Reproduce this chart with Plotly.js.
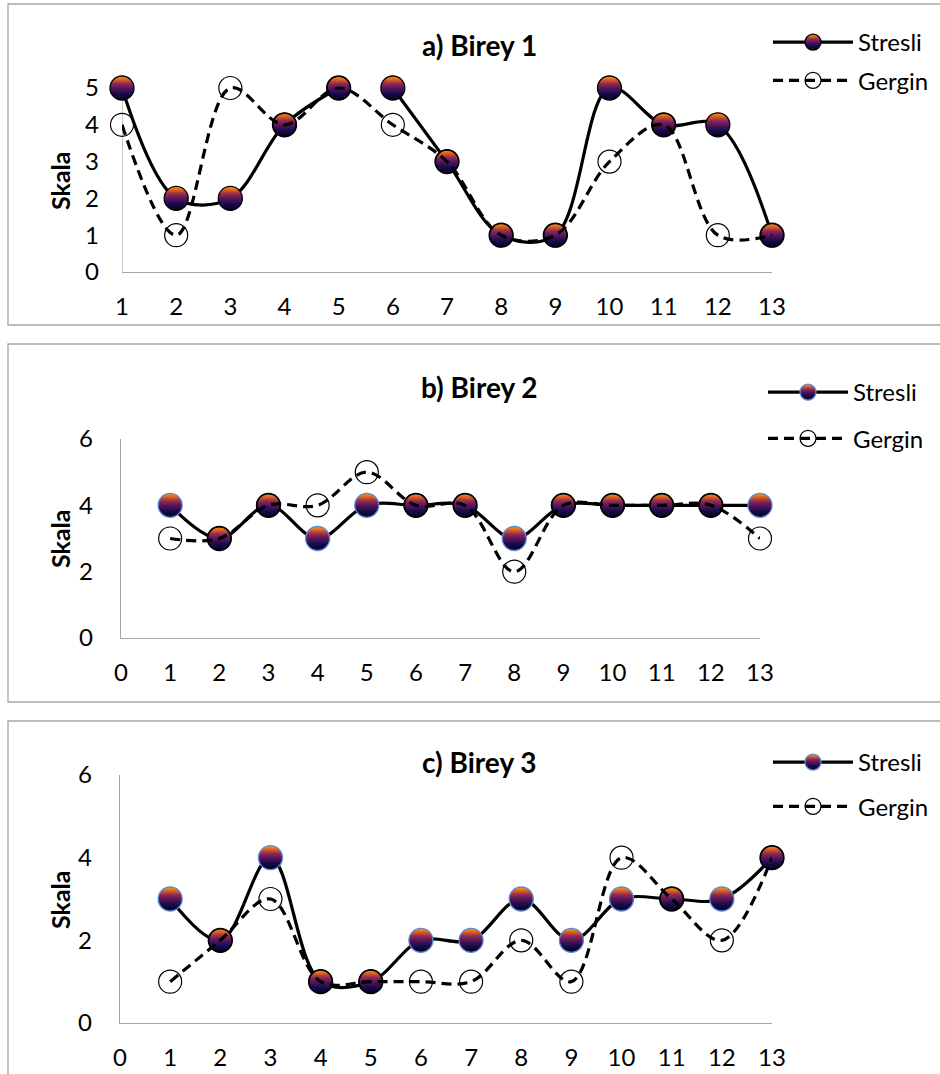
<!DOCTYPE html>
<html><head><meta charset="utf-8">
<script src="https://cdn.plot.ly/plotly-3.0.1.min.js"></script>
<style>html,body{margin:0;padding:0;background:#fff}</style>
</head><body><div id="chart" style="width:940px;height:1074px"></div>
<script>
// ---- data ----
const xValues = [1,2,3,4,5,6,7,8,9,10,11,12,13];
const stresli1 = [5,2,2,4,5,5,3,1,1,5,4,4,1];
const gergin1  = [4,1,5,4,5,4,3,1,1,3,4,1,1];
const stresli2 = [4,3,4,3,4,4,4,3,4,4,4,4,4];
const gergin2  = [3,3,4,4,5,4,4,2,4,4,4,4,3];
const stresli3 = [3,2,4,1,1,2,2,3,2,3,3,3,4];
const gergin3  = [1,2,3,1,1,1,1,2,1,4,3,2,4];
const panelTitles = ['a) Birey 1','b) Birey 2','c) Birey 3'];
const seriesNames = ['Stresli','Gergin'];
const yTitle = 'Skala';
const xTicksA = [1,2,3,4,5,6,7,8,9,10,11,12,13];
const xTicksBC = [0,1,2,3,4,5,6,7,8,9,10,11,12,13];
const yTicksA = [0,1,2,3,4,5];
const yTicksBC = [0,2,4,6];

// ---- style ----
const W = 940, H = 1074;
const px = v => v / W;
const py = v => 1 - v / H;
const FONT = 'Lato, "Noto Sans", sans-serif';
const AX = '#a6a6a6';
const BLUE = '#5b8ad6';
const DARK = '#000000';
const rimB = [BLUE,DARK,DARK,BLUE,BLUE,DARK,DARK,BLUE,DARK,DARK,DARK,DARK,BLUE];
const rimC = [BLUE,DARK,BLUE,DARK,DARK,BLUE,BLUE,BLUE,BLUE,BLUE,DARK,BLUE,DARK];

function stresliMarker(rim) {
  return {size: 24, color: '#ffa000', gradient: {type: 'vertical', color: '#050320'},
          line: {color: rim, width: 1.3}};
}
const gerginMarker = {size: 23, color: 'rgba(0,0,0,0)', line: {color: '#000', width: 1.2}};
const solidLine = {color: '#000', width: 3.2, shape: 'spline', smoothing: 1};
const dashLine = {color: '#000', width: 3.2, dash: '10px,6px', shape: 'spline', smoothing: 1};

const data = [];
// panel a (Stresli line broken between points 5 and 6)
data.push({x: xValues.slice(0,5), y: stresli1.slice(0,5), xaxis:'x', yaxis:'y', mode:'lines+markers',
  name: seriesNames[0], legend:'legend', legendgroup:'a1', line: solidLine, marker: stresliMarker(DARK), cliponaxis:false});
data.push({x: xValues.slice(5), y: stresli1.slice(5), xaxis:'x', yaxis:'y', mode:'lines+markers',
  name: seriesNames[0], showlegend:false, legendgroup:'a1', line: solidLine, marker: stresliMarker(DARK), cliponaxis:false});
data.push({x: xValues, y: gergin1, xaxis:'x', yaxis:'y', mode:'lines+markers',
  name: seriesNames[1], legend:'legend', legendgroup:'a2', line: dashLine, marker: gerginMarker, cliponaxis:false});
// panel b
data.push({x: xValues, y: stresli2, xaxis:'x2', yaxis:'y2', mode:'lines+markers',
  name: seriesNames[0], legend:'legend2', legendgroup:'b1', line: solidLine, marker: stresliMarker(rimB), cliponaxis:false});
data.push({x: xValues, y: gergin2, xaxis:'x2', yaxis:'y2', mode:'lines+markers',
  name: seriesNames[1], legend:'legend2', legendgroup:'b2', line: dashLine, marker: gerginMarker, cliponaxis:false});
// panel c
data.push({x: xValues, y: stresli3, xaxis:'x3', yaxis:'y3', mode:'lines+markers',
  name: seriesNames[0], legend:'legend3', legendgroup:'c1', line: solidLine, marker: stresliMarker(rimC), cliponaxis:false});
data.push({x: xValues, y: gergin3, xaxis:'x3', yaxis:'y3', mode:'lines+markers',
  name: seriesNames[1], legend:'legend3', legendgroup:'c2', line: dashLine, marker: gerginMarker, cliponaxis:false});

const tickFont = {family: FONT, size: 24, color: '#000'};
function xAxis(dom, range, ticks, anchor) {
  return {domain: [px(dom[0]), px(dom[1])], range: range, anchor: anchor, tickmode:'array', tickvals: ticks,
    showline: true, linecolor: AX, linewidth: 1.2, showgrid: false, zeroline: false, ticks: '',
    tickfont: tickFont, ticklabelstandoff: 13, fixedrange: true};
}
function yAxis(dom, range, ticks, anchor, line) {
  return {domain: [py(dom[0]), py(dom[1])], range: range, anchor: anchor, tickmode:'array', tickvals: ticks,
    showline: line, linecolor: AX, linewidth: 1.2, showgrid: false, zeroline: false, ticks: '',
    tickfont: tickFont, ticklabelstandoff: 22, fixedrange: true};
}
function legendAt(x, y, gap) {
  return {x: px(x), y: py(y), xanchor: 'left', yanchor: 'top', bgcolor: 'rgba(0,0,0,0)',
    font: {family: FONT, size: 24, color: '#000'}, itemwidth: 80, tracegroupgap: gap, borderwidth: 0};
}
function border(top, bottom) {
  return {type:'rect', xref:'paper', yref:'paper', x0: px(8), x1: px(960), y0: py(top), y1: py(bottom),
    line: {color: AX, width: 1.3}, fillcolor: 'rgba(0,0,0,0)', layer: 'below'};
}
function titleAnn(text, x, y) {
  return {text: '<b>' + text + '</b>', xref:'paper', yref:'paper', x: px(x), y: py(y), xanchor:'center', yanchor:'middle',
    showarrow:false, font: {family: FONT, size: 28, color: '#000'}};
}
function yTitleAnn(y) {
  return {text: '<b>' + yTitle + '</b>', xref:'paper', yref:'paper', x: px(60), y: py(y), xanchor:'center', yanchor:'middle',
    textangle: -90, showarrow:false, font: {family: FONT, size: 25, color: '#000'}};
}

const layout = {
  width: W, height: H, margin: {l:0, r:0, t:0, b:0}, paper_bgcolor: '#fff', plot_bgcolor: 'rgba(0,0,0,0)',
  showlegend: true, hovermode: false,
  xaxis: xAxis([122,772], [1,13], xTicksA, 'y'),
  yaxis: yAxis([272, 272 - 5.4*36.8], [0,5.4], yTicksA, 'x', false),
  xaxis2: xAxis([121,760], [0,13], xTicksBC, 'y2'),
  yaxis2: yAxis([638,439], [0,6], yTicksBC, 'x2', true),
  xaxis3: xAxis([120,772], [0,13], xTicksBC, 'y3'),
  yaxis3: yAxis([1023,775], [0,6], yTicksBC, 'x3', true),
  legend: legendAt(768, 20, 4),
  legend2: legendAt(763, 370, 12),
  legend3: legendAt(768, 740, 10),
  shapes: [
    border(4, 325), border(344, 702), border(721, 1090),
    {type:'line', xref:'x', yref:'y', x0:1, x1:1, y0:0, y1:5, line:{color: AX, width:1.2}, layer:'below'}
  ],
  annotations: [
    titleAnn(panelTitles[0], 480, 45), titleAnn(panelTitles[1], 479, 387), titleAnn(panelTitles[2], 480, 762),
    yTitleAnn(180), yTitleAnn(538), yTitleAnn(899)
  ]
};

const gradStops = [[0,'#ffa000'],[0.14,'#e2661e'],[0.32,'#932a52'],[0.5,'#55185c'],[0.75,'#170a4a'],[1,'#040318']];
function recolorGradients() {
  document.querySelectorAll('linearGradient').forEach(g => {
    while (g.firstChild) g.removeChild(g.firstChild);
    g.setAttribute('x1','0'); g.setAttribute('x2','0'); g.setAttribute('y1','0'); g.setAttribute('y2','1');
    gradStops.forEach(s => {
      const st = document.createElementNS('http://www.w3.org/2000/svg','stop');
      st.setAttribute('offset', s[0]);
      st.setAttribute('stop-color', s[1]);
      g.appendChild(st);
    });
  });
}
Plotly.newPlot('chart', data, layout, {staticPlot: true, displayModeBar: false}).then(recolorGradients);
</script>
</body></html>
